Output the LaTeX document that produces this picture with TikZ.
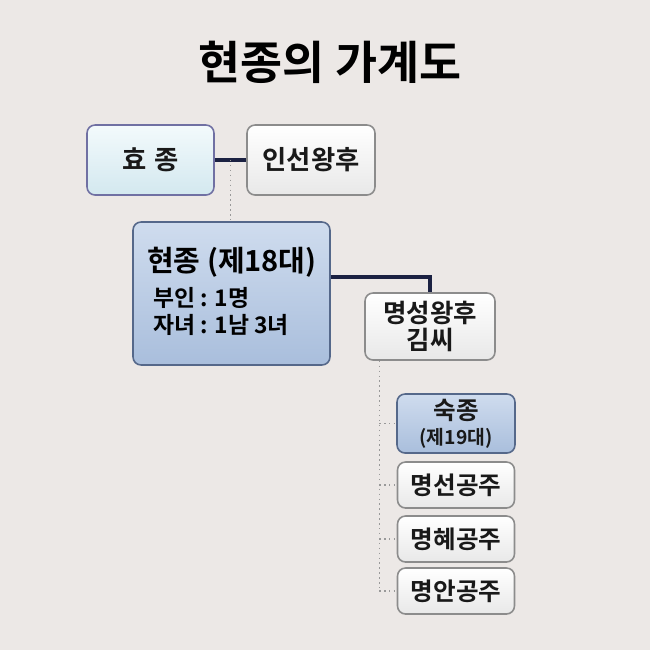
\documentclass[tikz,border=0pt]{standalone}
\usepackage{fontspec}
\setmainfont{Noto Sans CJK KR}[BoldFont={Noto Sans CJK KR Bold}]
\usetikzlibrary{calc,positioning}
\definecolor{bgcol}{HTML}{ECE8E6}
\definecolor{linecol}{HTML}{1B2142}
\definecolor{blueA}{HTML}{CFDCEE}
\definecolor{blueB}{HTML}{A9BEDC}
\definecolor{blueedge}{HTML}{55688A}
\definecolor{cyanA}{HTML}{F3FAFC}
\definecolor{cyanB}{HTML}{D3E8EF}
\definecolor{greyedge}{HTML}{8C8C8C}
\begin{document}
\begin{tikzpicture}[x=0.02cm,y=-0.02cm,font=\bfseries,
  box/.style={rounded corners=0.16cm,line width=0.9pt,inner sep=0pt,align=center,text=black!90},
  whitebox/.style={box,draw=greyedge,top color=white,bottom color=black!9},
  bluebox/.style={box,draw=blueedge,top color=blueA,bottom color=blueB},
  cyanbox/.style={box,draw=greyedge!80!blue,top color=cyanA,bottom color=cyanB},
  kin/.style={linecol,line width=1.9pt},
  dots/.style={black!40,line width=0.8pt,dotted}]
\fill[bgcol] (0,0) rectangle (650,650);
\useasboundingbox (0,0) rectangle (650,650);
% title
\node[font=\fontsize{26}{30}\bfseries\selectfont] (title) at (330,62) {현종의 가계도};
% parents
\node[cyanbox,minimum width=2.54cm,minimum height=1.4cm,font=\fontsize{15}{17}\bfseries\selectfont] (hyo) at (150.5,160) {효\hspace{0.3em}종};
\node[whitebox,minimum width=2.56cm,minimum height=1.4cm,font=\fontsize{15}{17}\bfseries\selectfont] (inseon) at (311,160) {인선왕후};
% hyeonjong
\node[bluebox,minimum width=3.94cm,minimum height=2.86cm] (hyeon) at (231.5,293.5) {};
\node[anchor=west,font=\fontsize{16.5}{20}\bfseries\selectfont] (hname) at (141,262) {현종 (제18대)};
\node[anchor=west,font=\fontsize{13}{15}\bfseries\selectfont] (wife) at (147,298) {부인 : 1명};
\node[anchor=west,font=\fontsize{13}{15}\bfseries\selectfont] (kids) at (147,325) {자녀 : 1남 3녀};
% queen
\node[whitebox,minimum width=2.6cm,minimum height=1.34cm,font=\fontsize{14.5}{17}\bfseries\selectfont] (myeong) at (430,326.5) {명성왕후\\[-2pt]김씨};
% children
\node[bluebox,minimum width=2.36cm,minimum height=1.18cm,font=\fontsize{14}{15}\bfseries\selectfont] (suk) at (456,423.5) {숙종\\[-1pt]{\fontsize{11}{13}\selectfont (제19대)}};
\node[whitebox,minimum width=2.34cm,minimum height=0.92cm,font=\fontsize{14}{15}\bfseries\selectfont] (seon) at (456,485) {명선공주};
\node[whitebox,minimum width=2.34cm,minimum height=0.92cm,font=\fontsize{14}{15}\bfseries\selectfont] (hye) at (456,539) {명혜공주};
\node[whitebox,minimum width=2.34cm,minimum height=0.92cm,font=\fontsize{14}{15}\bfseries\selectfont] (an) at (456,591) {명안공주};
% connectors
\draw[kin] (hyo.east) -- (inseon.west);
\coordinate (mid) at ($(hyo.east)!0.5!(inseon.west)$);
\draw[dots] (mid) -- (mid |- hyeon.north);
\draw[kin] ([yshift=0.33cm]hyeon.east) -| (myeong.north);
\coordinate (trunk) at ([xshift=0.3cm]myeong.south west);
\draw[dots] (trunk) -- (trunk |- an.west);
\foreach \c in {suk,seon,hye,an}
  \draw[dots] (trunk |- \c.west) -- (\c.west);
\end{tikzpicture}
\end{document}
